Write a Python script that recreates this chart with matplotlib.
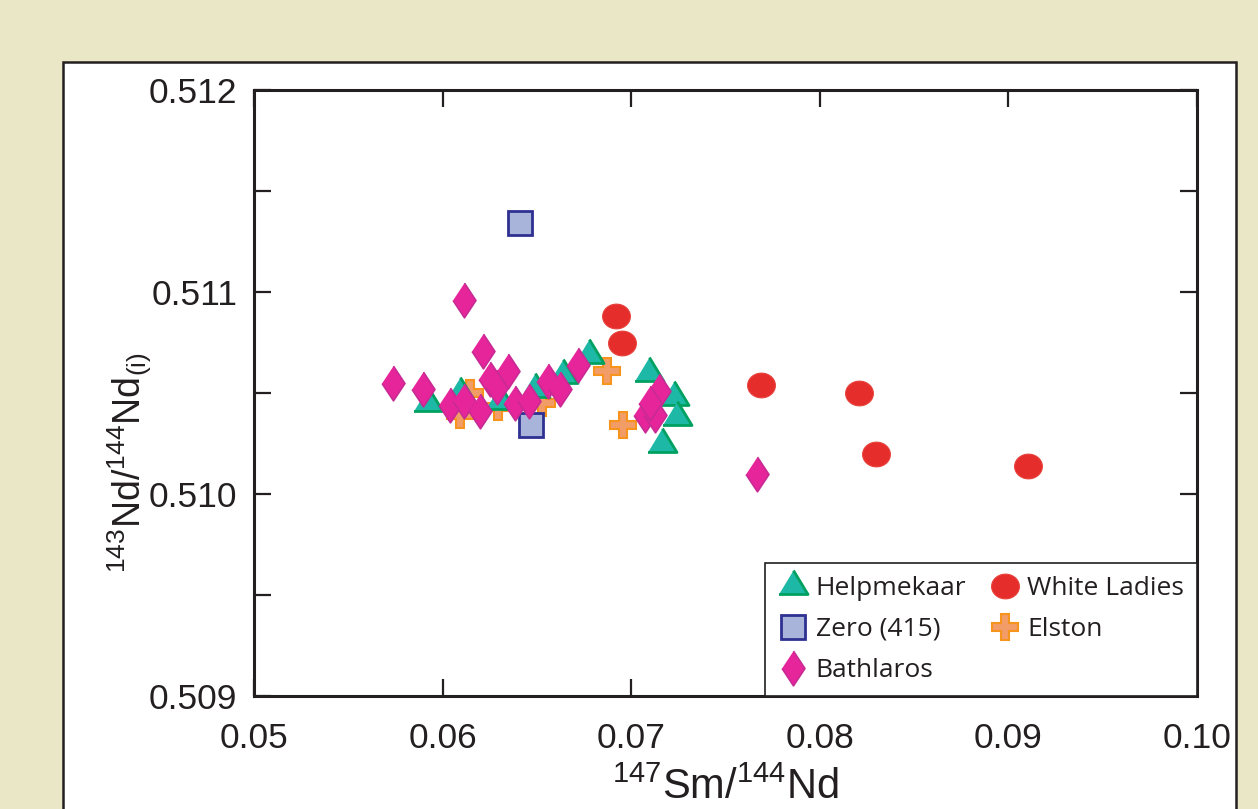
import matplotlib
matplotlib.use("Agg")
import matplotlib.pyplot as plt
import matplotlib.patches as mpatches
import numpy as np

plt.rcParams["font.family"] = ["Liberation Sans", "DejaVu Sans"]
plt.rcParams["mathtext.fontset"] = "custom"
plt.rcParams["mathtext.rm"] = "Liberation Sans"
plt.rcParams["mathtext.it"] = "Liberation Sans"

# data (147Sm/144Nd, 143Nd/144Nd(i))
helpmekaar_x = [0.05924, 0.06092, 0.06304, 0.0649, 0.06637, 0.06778, 0.07097, 0.07229, 0.07241, 0.07162]
helpmekaar_y = [0.51045, 0.5105, 0.51046, 0.51052, 0.51059, 0.51069, 0.5106, 0.51048, 0.51038, 0.51025]

zero_x = [0.0641, 0.06467]
zero_y = [0.51134, 0.51034]

bathlaros_x = [0.05735, 0.05894, 0.06115, 0.06213, 0.06039, 0.06113, 0.06198, 0.06251, 0.06287, 0.06348,
               0.06384, 0.0646, 0.0656, 0.06622, 0.0672, 0.07147, 0.07073, 0.07126, 0.071, 0.07667]
bathlaros_y = [0.51055, 0.51052, 0.51096, 0.51071, 0.51044, 0.51046, 0.51041, 0.51057, 0.51053, 0.51061,
               0.51045, 0.51046, 0.51056, 0.51052, 0.51064, 0.51051, 0.51039, 0.51039, 0.51045, 0.5101]

white_ladies_x = [0.06919, 0.0695, 0.07687, 0.08208, 0.083, 0.09106]
white_ladies_y = [0.51088, 0.51075, 0.51054, 0.5105, 0.5102, 0.51014]

elston_x = [0.0687, 0.06958, 0.06145, 0.06092, 0.06295, 0.06525]
elston_y = [0.51061, 0.51034, 0.5105, 0.51039, 0.51043, 0.51045]

x_ticks = [0.05, 0.06, 0.07, 0.08, 0.09, 0.10]
x_ticklabels = ["0.05", "0.06", "0.07", "0.08", "0.09", "0.10"]
y_ticks = [0.509, 0.510, 0.511, 0.512]
y_ticklabels = ["0.509", "0.510", "0.511", "0.512"]

tri = [(-1, -0.55), (1, -0.55), (0, 1.1)]
dia = [(0, 1), (0.66, 0), (0, -1), (-0.66, 0)]
th = np.linspace(0, 2 * np.pi, 60)
ell = list(zip(np.cos(th), 0.89 * np.sin(th)))

fig = plt.figure(figsize=(12.58, 8.09), dpi=100)
fig.patch.set_facecolor("#EAE7C6")
panel = mpatches.Rectangle((63 / 1258, -0.05), (1236 - 63) / 1258, 1.05 - 62 / 809,
                           transform=fig.transFigure, facecolor="white", edgecolor="#231F20",
                           lw=1.8, zorder=-10)
fig.add_artist(panel)

ax = fig.add_axes([254 / 1258, 1 - 696 / 809, 943 / 1258, 606 / 809])
ax.set_facecolor("white")

ax.plot(elston_x, elston_y, ls="none", marker="P", ms=19, mfc="#F29C68", mec="#F7941D", mew=1.5,
        zorder=2, label="Elston")
ax.plot(helpmekaar_x, helpmekaar_y, ls="none", marker=tri, ms=23, mfc="#1EB8A6", mec="#00A160", mew=2,
        zorder=3, label="Helpmekaar")
ax.plot(zero_x, zero_y, ls="none", marker="s", ms=17, mfc="#A9B4DA", mec="#2E3192", mew=2,
        zorder=4, label="Zero (415)")
ax.plot(white_ladies_x, white_ladies_y, ls="none", marker=ell, ms=20, mfc="#E52D2C", mec="#E8403A", mew=0.8,
        zorder=5, label="White Ladies")
ax.plot(bathlaros_x, bathlaros_y, ls="none", marker=dia, ms=25, mfc="#E7259A", mec="#C72A93", mew=1.2,
        zorder=6, label="Bathlaros")

ax.set_xlim(0.05, 0.10)
ax.set_ylim(0.509, 0.512)
ax.set_xticks(x_ticks)
ax.set_xticklabels(x_ticklabels)
ax.set_yticks(np.arange(0.509, 0.51201, 0.0005))
ax.set_yticklabels([y_ticklabels[i // 2] if i % 2 == 0 else "" for i in range(7)])
ax.tick_params(direction="in", length=12, width=1.6, top=True, right=True, labelsize=25.5,
               color="#231F20", labelcolor="#231F20")
ax.tick_params(axis="x", pad=19)
ax.tick_params(axis="y", pad=12)
for s in ax.spines.values():
    s.set_linewidth(2.2)
    s.set_color("#231F20")

ax.set_xlabel(r"$^{147}$Sm/$^{144}$Nd", fontsize=30, color="#231F20", labelpad=9)
ax.set_ylabel(r"$^{143}$Nd/$^{144}$Nd$_{(\mathrm{i})}$", fontsize=27, color="#231F20")
ax.yaxis.set_label_coords(-0.106, 0.385)

h = {l.get_label(): l for l in ax.get_lines()}
order = ["Helpmekaar", "Zero (415)", "Bathlaros", "White Ladies", "Elston"]
leg = ax.legend([h[k] for k in order], order, ncol=2, loc="lower right", borderaxespad=0,
                fancybox=False, framealpha=1, edgecolor="#231F20", prop={"family": "Open Sans", "size": 19},
                handlelength=1.1, handletextpad=0.3, columnspacing=0.9, labelspacing=0.6,
                borderpad=0.5, markerscale=1.0)
leg.get_frame().set_linewidth(1.2)
for t in leg.get_texts():
    t.set_color("#231F20")

fig.savefig("out.png", dpi=100, facecolor=fig.get_facecolor())
